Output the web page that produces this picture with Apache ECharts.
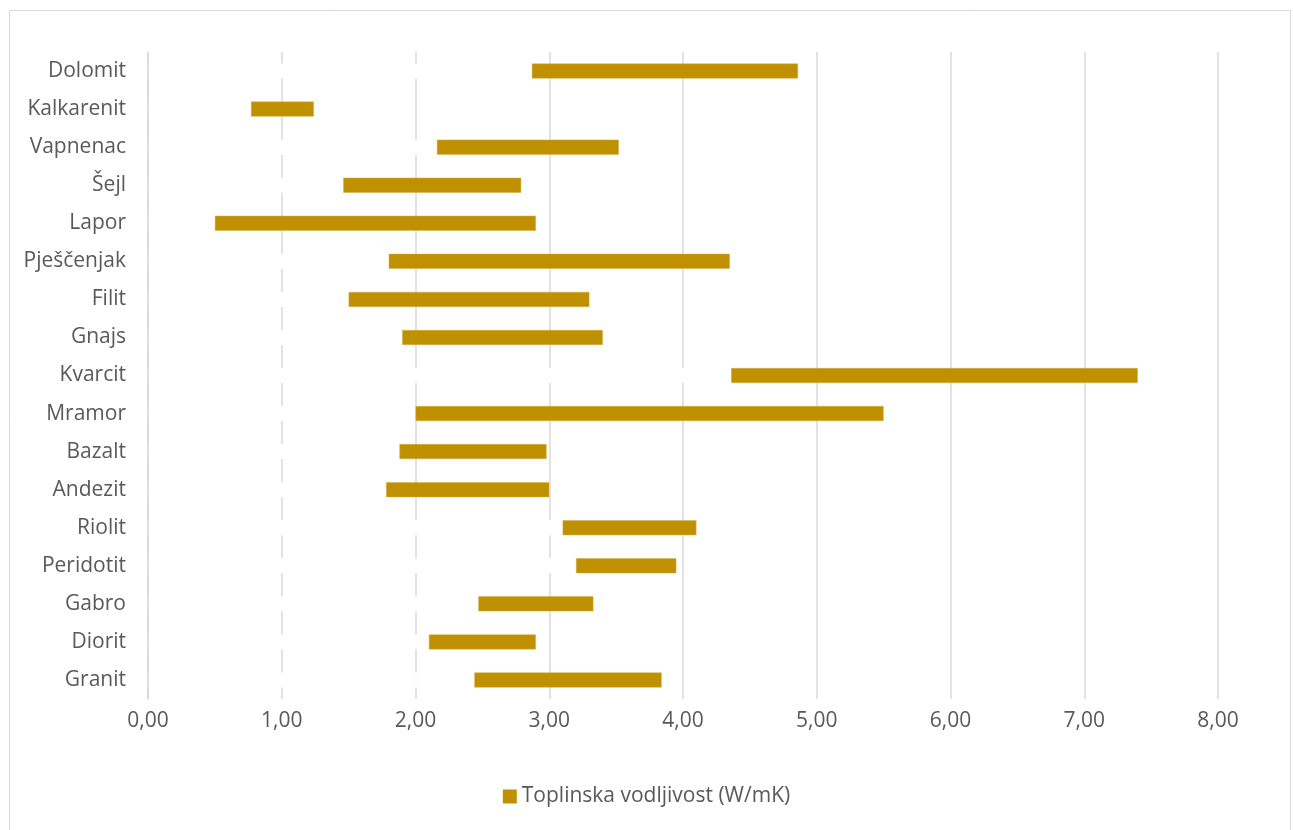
<!DOCTYPE html>
<html>
<head>
<meta charset="utf-8">
<script src="https://cdn.jsdelivr.net/npm/echarts@6/dist/echarts.min.js"></script>
<style>
html,body{margin:0;padding:0;background:#fff;}
#c{width:1293px;height:830px;}
</style>
</head>
<body>
<div id="c"></div>
<script>
const categories = ['Granit','Diorit','Gabro','Peridotit','Riolit','Andezit','Bazalt','Mramor','Kvarcit','Gnajs','Filit','Pješčenjak','Lapor','Šejl','Vapnenac','Kalkarenit','Dolomit'];
const minVals = [2.44, 2.10, 2.47, 3.20, 3.10, 1.78, 1.88, 2.00, 4.36, 1.90, 1.50, 1.80, 0.50, 1.46, 2.16, 0.77, 2.87];
const maxVals = [3.84, 2.90, 3.33, 3.95, 4.10, 3.00, 2.98, 5.50, 7.40, 3.40, 3.30, 4.35, 2.90, 2.79, 3.52, 1.24, 4.86];
const xTicks = ['0,00','1,00','2,00','3,00','4,00','5,00','6,00','7,00','8,00'];
const seriesName = 'Toplinska vodljivost (W/mK)';

const rangeVals = maxVals.map((v, i) => +(v - minVals[i]).toFixed(2));
const font = '"Open Sans", sans-serif';
const chart = echarts.init(document.getElementById('c'));
chart.setOption({
  animation: false,
  backgroundColor: '#fff',
  graphic: [{
    type: 'rect', left: 7, top: 8, silent: true,
    shape: {width: 1281, height: 840},
    style: {fill: 'none', stroke: '#d9d9d9', lineWidth: 1}
  }],
  grid: {left: 148, right: 75, top: 52, bottom: 131},
  legend: {
    data: [seriesName],
    bottom: 18, left: 'center',
    itemWidth: 14, itemHeight: 14, itemGap: 7,
    icon: 'rect',
    itemStyle: {borderWidth: 0},
    textStyle: {color: '#595959', fontSize: 21, fontFamily: font}
  },
  xAxis: {
    type: 'value', min: 0, max: 8, interval: 1,
    axisLine: {show: false}, axisTick: {show: false},
    axisLabel: {color: '#595959', fontSize: 21, fontFamily: font, margin: 12,
      formatter: (v) => xTicks[Math.round(v)]},
    splitLine: {show: true, lineStyle: {color: '#d9d9d9', width: 1.5}}
  },
  yAxis: {
    type: 'category', data: categories, z: 5,
    axisLine: {show: true, lineStyle: {color: '#d9d9d9', width: 1.5}},
    axisTick: {show: false},
    axisLabel: {color: '#595959', fontSize: 21, fontFamily: font, margin: 22}
  },
  series: [
    {name: 'base', type: 'bar', stack: 'r', data: minVals, barWidth: 15,
     itemStyle: {color: '#ffffff'}, silent: true},
    {name: seriesName, type: 'bar', stack: 'r', data: rangeVals, barWidth: 15,
     itemStyle: {color: '#BF9000', borderColor: '#D4B04A', borderWidth: 0.5}}
  ]
});
</script>
</body>
</html>
